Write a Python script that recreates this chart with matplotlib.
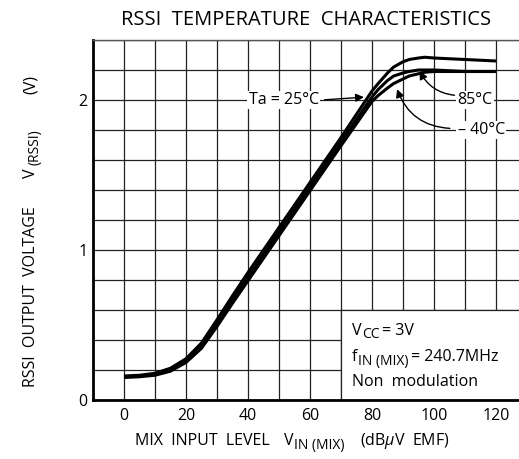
import matplotlib
matplotlib.use("Agg")
import matplotlib.pyplot as plt
from matplotlib.patches import Rectangle

plt.rcParams['font.family'] = ['Open Sans', 'DejaVu Sans']
plt.rcParams['mathtext.fontset'] = 'custom'
plt.rcParams['mathtext.rm'] = 'Open Sans'
plt.rcParams['mathtext.it'] = 'Open Sans:italic'

W, H = 519, 459

# input level (dBuV EMF)
vin = [0, 5, 10, 15, 20, 25, 30, 35, 40, 50, 60, 70, 80, 82, 85, 87, 90, 92, 95, 97, 100, 110, 120]
# RSSI output voltage (V)
v_85 = [0.16, 0.165, 0.178, 0.212, 0.275, 0.38, 0.535, 0.695, 0.85, 1.15, 1.45, 1.75, 2.06, 2.11, 2.18, 2.22, 2.255, 2.27, 2.28, 2.285, 2.28, 2.27, 2.26]
v_25 = [0.155, 0.16, 0.17, 0.2, 0.26, 0.36, 0.51, 0.67, 0.82, 1.12, 1.42, 1.72, 2.02, 2.07, 2.13, 2.16, 2.18, 2.19, 2.2, 2.2, 2.2, 2.19, 2.19]
v_m40 = [0.15, 0.155, 0.165, 0.192, 0.25, 0.345, 0.49, 0.645, 0.795, 1.095, 1.395, 1.695, 1.99, 2.03, 2.08, 2.11, 2.14, 2.16, 2.175, 2.185, 2.19, 2.19, 2.19]

xticks = [0, 20, 40, 60, 80, 100, 120]
yticks = [0, 1, 2]

fig = plt.figure(figsize=(W / 100, H / 100), dpi=100)
ax = fig.add_axes([93 / W, 59 / H, 434 / W, 360 / H])
ax.set_xlim(-10, 130)
ax.set_ylim(0, 2.4)

ax.set_xticks(xticks)
ax.set_xticks(range(-10, 131, 10), minor=True)
ax.set_yticks(yticks)
ax.set_yticks([i * 0.2 for i in range(13)], minor=True)
ax.tick_params(which='both', length=0, labelsize=11.5)
ax.tick_params(axis='x', pad=6)
ax.tick_params(axis='y', pad=4)
ax.set_axisbelow(True)
ax.grid(which='both', color='#222222', lw=0.9)

for s in ['left', 'bottom']:
    ax.spines[s].set_linewidth(2.0)
ax.spines['top'].set_linewidth(1.0)
ax.spines['top'].set_color('#555555')
ax.spines['right'].set_visible(False)

# white box for conditions
ax.add_patch(Rectangle((70, 0), 60, 0.6, facecolor='white', edgecolor='#222222', lw=0.9, zorder=1))

for v in [v_85, v_25, v_m40]:
    ax.plot(vin, v, color='black', lw=2.2, zorder=3, solid_capstyle='butt')

fs = 11.5
bb = dict(facecolor='white', edgecolor='none', pad=1.0)
ax.text(51.5, 2.0, 'Ta = 25°C', fontsize=fs, ha='center', va='center', bbox=bb, zorder=4)
ax.annotate('', xy=(78.3, 2.02), xytext=(63.8, 2.0),
            arrowprops=dict(arrowstyle='-|>', color='black', lw=1.0, mutation_scale=12), zorder=4)

ax.text(113.3, 2.0, '85°C', fontsize=fs, ha='center', va='center', bbox=bb, zorder=4)
ax.annotate('', xy=(95, 2.21), xytext=(107.5, 2.03),
            arrowprops=dict(arrowstyle='-|>', color='black', lw=1.0, mutation_scale=12,
                            connectionstyle='arc3,rad=-0.3'), zorder=4)

ax.text(115.3, 1.8, '– 40°C', fontsize=fs, ha='center', va='center', bbox=bb, zorder=4)
ax.annotate('', xy=(87.8, 2.09), xytext=(106.0, 1.81),
            arrowprops=dict(arrowstyle='-|>', color='black', lw=1.0, mutation_scale=12,
                            connectionstyle='arc3,rad=-0.35'), zorder=4)

renderer = fig.canvas.get_renderer()


def runs(x0, base, parts, rot=0):
    # parts: (text, size, subscript) or a number = gap in px
    # x0 = start along the text direction, base = baseline, both in image pixels
    pos = x0
    for p in parts:
        if not isinstance(p, tuple):
            pos += p if rot == 0 else -p
            continue
        s, size, sub = p
        shift = 3.5 if sub else 0
        if rot == 0:
            t = fig.text(pos / W, (H - base - shift) / H, s, fontsize=size,
                         ha='left', va='baseline')
            pos += t.get_window_extent(renderer).width
        else:
            t = fig.text((base + shift) / W, (H - pos) / H, s, fontsize=size, rotation=90,
                         rotation_mode='anchor', ha='left', va='baseline')
            pos -= t.get_window_extent(renderer).height
        # keep a tiny gap between runs
        pos += 0.5 if rot == 0 else -0.5


sub_fs = 10

fig.text(306 / W, 1 - 20 / H, 'RSSI  TEMPERATURE  CHARACTERISTICS', fontsize=14.5,
         ha='center', va='center')

runs(135, 445, [('MIX  INPUT  LEVEL', fs, False), 14, ('V', fs, False), ('IN (MIX)', sub_fs, True),
                15, (r'(dB$\mu$V  EMF)', fs, False)])
runs(387, 35, [('RSSI  OUTPUT  VOLTAGE', fs, False), 28, ('V', fs, False), 3, ('(RSSI)', sub_fs, True),
               34, ('(V)', fs, False)], rot=90)

runs(352, 335, [('V', fs, False), ('CC', sub_fs, True), 2, ('= 3V', fs, False)])
runs(352, 361, [('f', fs, False), ('IN (MIX)', sub_fs, True), 2, ('= 240.7MHz', fs, False)])
runs(352, 386, [('Non  modulation', fs, False)])

fig.savefig('out.png', dpi=100)
